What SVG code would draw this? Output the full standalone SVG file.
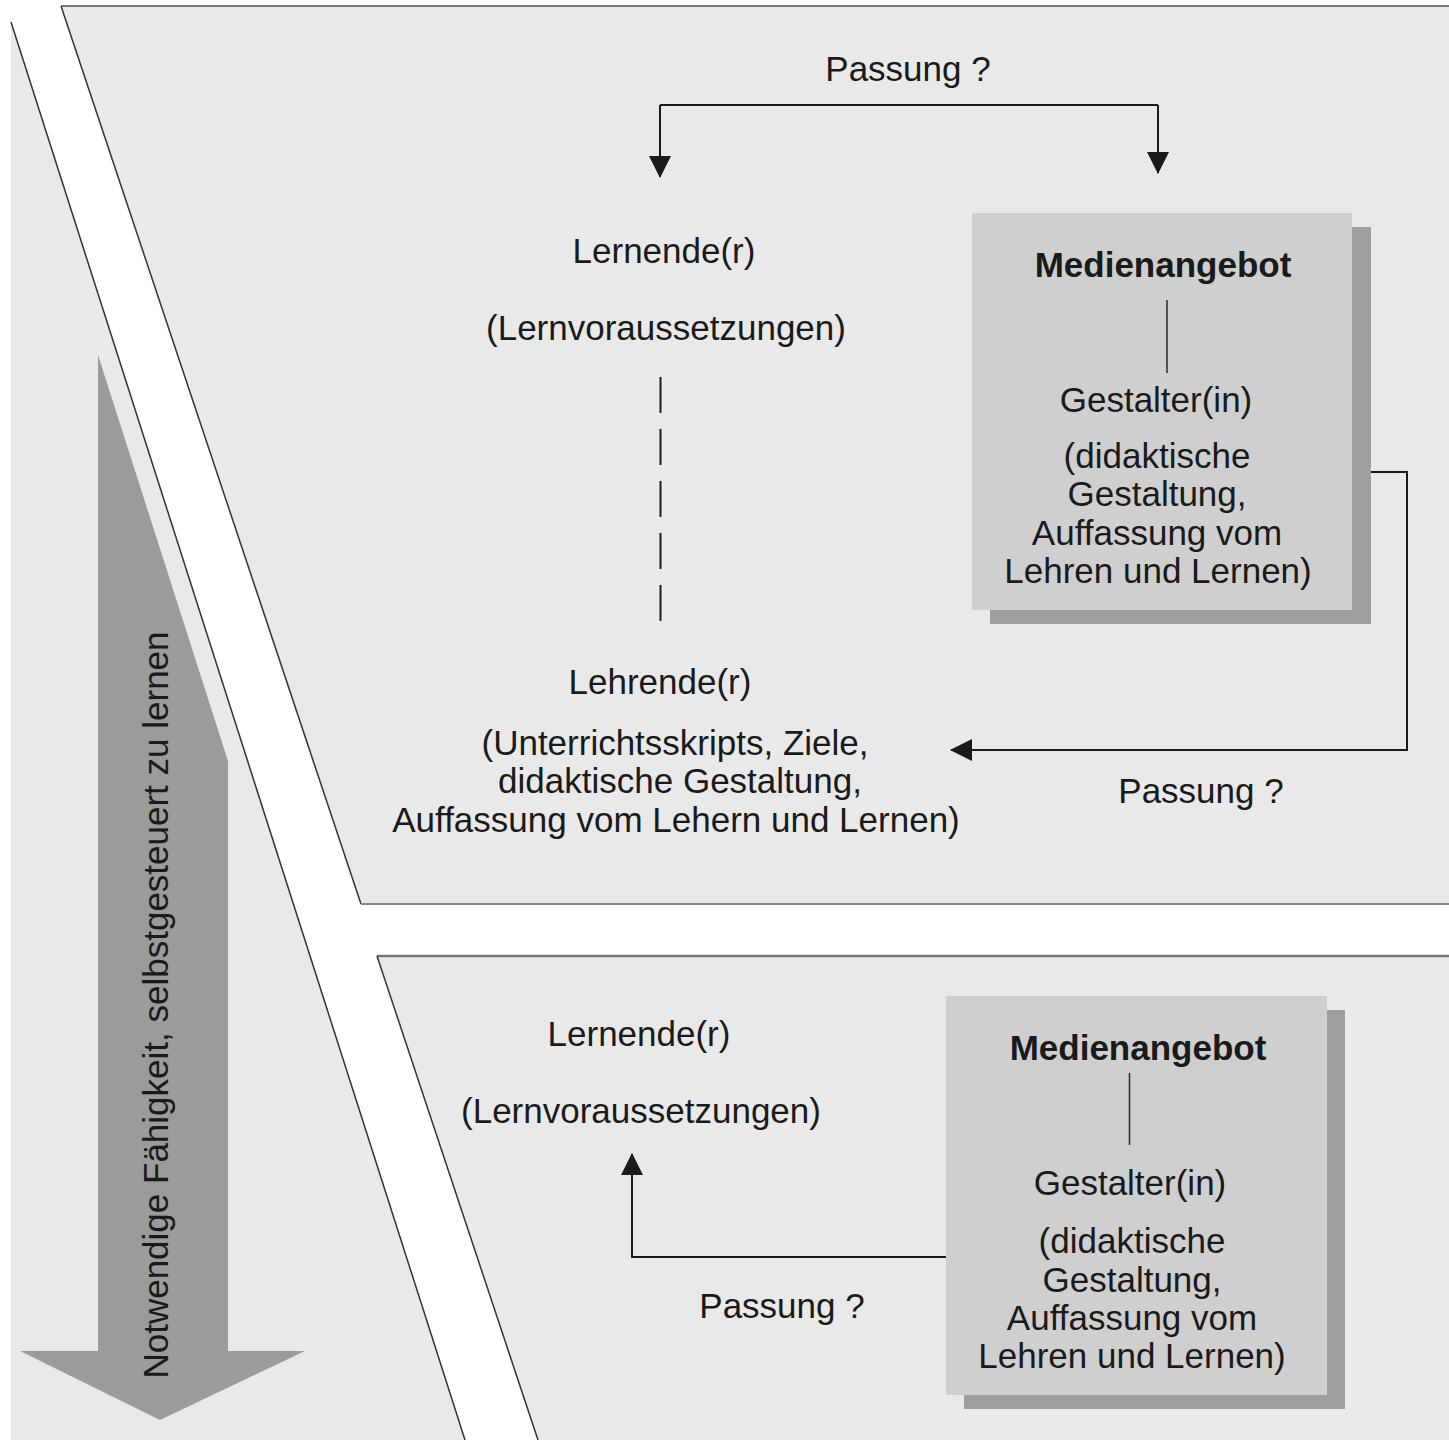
<svg xmlns="http://www.w3.org/2000/svg" width="1449" height="1440" viewBox="0 0 1449 1440">
<defs>
<style>
.t{font-family:"Liberation Sans",Arial,sans-serif;font-size:35px;fill:#1a1a1a;text-anchor:middle}
.b{font-weight:bold}
.ln{stroke:#1a1a1a;stroke-width:2;fill:none}
.in{stroke:#2a2a2a;stroke-width:1.5;fill:none}
.box{fill:#cfcfcf}
.sh{fill:#9f9f9f}
</style>
<marker id="ah" viewBox="0 0 22 22" refX="21" refY="11" markerWidth="22" markerHeight="22" markerUnits="userSpaceOnUse" orient="auto">
<path d="M0,0 L22,11 L0,22 Z" fill="#1a1a1a"/>
</marker>
</defs>
<rect width="1449" height="1440" fill="#ffffff"/>
<g id="background">
<polygon points="11,22 465,1440 11,1440" fill="#e9e9e9"/>
<line x1="11" y1="22" x2="465" y2="1440" stroke="#333" stroke-width="1.5"/>
<polygon points="61,6 1449,6 1449,904 361,904" fill="#e9e9e9"/>
<line x1="61" y1="6" x2="1449" y2="6" stroke="#777" stroke-width="2"/>
<line x1="61" y1="6" x2="361" y2="904" stroke="#333" stroke-width="1.5"/>
<line x1="361" y1="904" x2="1449" y2="904" stroke="#888" stroke-width="2"/>
<polygon points="377,956 1449,956 1449,1440 538,1440" fill="#e9e9e9"/>
<line x1="377" y1="956" x2="1449" y2="956" stroke="#777" stroke-width="2.5"/>
<line x1="377" y1="956" x2="538" y2="1440" stroke="#333" stroke-width="1.5"/>
</g>
<g id="big-arrow">
<polygon points="98,355 228,761 228,1351 305,1351 160,1420 20,1351 98,1351" fill="#9b9b9b"/>
<text class="t" transform="translate(168,1005) rotate(-90)">Notwendige Fähigkeit, selbstgesteuert zu lernen</text>
</g>
<g id="connectors">
<path class="ln" d="M660,105 L1158,105"/>
<path class="ln" d="M660,105 L660,177" marker-end="url(#ah)"/>
<path class="ln" d="M1158,105 L1158,173" marker-end="url(#ah)"/>
<path class="ln" d="M660.5,377 L660.5,625" stroke-dasharray="36 16"/>
<path class="ln" d="M1370,472 L1407,472 L1407,750 L951,750" marker-end="url(#ah)"/>
<path class="ln" d="M946,1257 L632,1257 L632,1154" marker-end="url(#ah)"/>
</g>
<g id="passung-top"><text class="t" x="908" y="81">Passung ?</text></g>
<g id="passung-right"><text class="t" x="1201" y="803">Passung ?</text></g>
<g id="passung-bottom"><text class="t" x="782" y="1318">Passung ?</text></g>
<g id="lernende-top">
<text class="t" x="664" y="263">Lernende(r)</text>
<text class="t" x="666" y="340">(Lernvoraussetzungen)</text>
</g>
<g id="lehrende">
<text class="t" x="660" y="694">Lehrende(r)</text>
<text class="t" x="675" y="755">(Unterrichtsskripts, Ziele,</text>
<text class="t" x="680" y="793">didaktische Gestaltung,</text>
<text class="t" x="676" y="832">Auffassung vom Lehern und Lernen)</text>
</g>
<g id="medienangebot-top">
<rect class="sh" x="990" y="227" width="381" height="397"/>
<rect class="box" x="972" y="213" width="380" height="397"/>
<text class="t b" x="1163" y="277">Medienangebot</text>
<path class="in" d="M1167,300 L1167,373"/>
<text class="t" x="1156" y="412">Gestalter(in)</text>
<text class="t" x="1157" y="468">(didaktische</text>
<text class="t" x="1157" y="506">Gestaltung,</text>
<text class="t" x="1157" y="545">Auffassung vom</text>
<text class="t" x="1158" y="583">Lehren und Lernen)</text>
</g>
<g id="lernende-bottom">
<text class="t" x="639" y="1046">Lernende(r)</text>
<text class="t" x="641" y="1123">(Lernvoraussetzungen)</text>
</g>
<g id="medienangebot-bottom">
<rect class="sh" x="964" y="1010" width="381" height="399"/>
<rect class="box" x="946" y="996" width="381" height="399"/>
<text class="t b" x="1138" y="1060">Medienangebot</text>
<path class="in" d="M1129.5,1073 L1129.5,1145"/>
<text class="t" x="1130" y="1195">Gestalter(in)</text>
<text class="t" x="1132" y="1253">(didaktische</text>
<text class="t" x="1132" y="1292">Gestaltung,</text>
<text class="t" x="1132" y="1330">Auffassung vom</text>
<text class="t" x="1132" y="1368">Lehren und Lernen)</text>
</g>
</svg>
